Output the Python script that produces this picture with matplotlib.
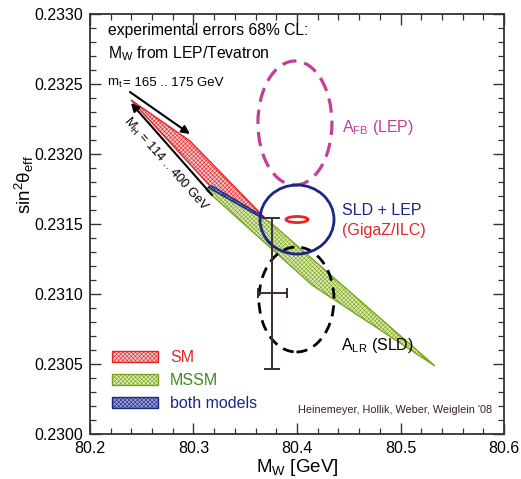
import matplotlib
matplotlib.use('Agg')
import matplotlib.pyplot as plt
from matplotlib.patches import Polygon, Ellipse, Patch
from matplotlib.ticker import MultipleLocator, FormatStrFormatter

plt.rcParams['font.family'] = ['Liberation Sans', 'DejaVu Sans']
plt.rcParams['mathtext.fontset'] = 'custom'
plt.rcParams['mathtext.rm'] = 'Liberation Sans'
plt.rcParams['mathtext.it'] = 'Liberation Sans'
plt.rcParams['mathtext.bf'] = 'Liberation Sans:bold'
plt.rcParams['hatch.linewidth'] = 0.4

# band outlines (MW, sin2theta)
sm_x = [80.2396, 80.2966, 80.3681, 80.3169]
sm_y = [0.232386, 0.232093, 0.231550, 0.231764]
mssm_x = [80.3140, 80.3739, 80.5333, 80.4145, 80.3121]
mssm_y = [0.231757, 0.231514, 0.230486, 0.231064, 0.231743]
both_x = [80.3140, 80.3179, 80.3681, 80.3670]
both_y = [0.231764, 0.231771, 0.231550, 0.231540]

# contours: centre x, centre y, full width, full height
afb = (80.398, 0.232221, 0.0715, 0.000886)
sld_lep = (80.400, 0.231532, 0.0715, 0.000493)
alr = (80.3995, 0.230961, 0.0725, 0.00075)
gigaz = (80.400, 0.231532, 0.0213, 0.000043)

# experimental point
mw_meas, mw_err = 80.3763, 0.0142
s2_meas, s2_err = 0.231005, 0.00054

red = '#e4252a'
green = '#7aa51c'
navy = '#1b2689'
magenta = '#c13f98'

fig = plt.figure(figsize=(5.21, 4.79), dpi=100)
ax = fig.add_axes([0.1727, 0.0939, 0.7947, 0.8769])

def band(xs, ys, col, light):
    pts = list(zip(xs, ys))
    ax.add_patch(Polygon(pts, closed=True, facecolor=light, edgecolor='none', zorder=2))
    ax.add_patch(Polygon(pts, closed=True, facecolor='none', edgecolor=col,
                         hatch='xxxxxxxx', linewidth=1.0, zorder=2))

band(sm_x, sm_y, red, '#f6c8c8')
band(mssm_x, mssm_y, green, '#dde9b8')
band(both_x, both_y, navy, '#9aa2d0')

ax.add_patch(Ellipse(afb[:2], afb[2], afb[3], fill=False, edgecolor=magenta,
                     linewidth=2.3, linestyle=(0, (4.5, 2.5)), zorder=3))
ax.add_patch(Ellipse(sld_lep[:2], sld_lep[2], sld_lep[3], fill=False, edgecolor=navy,
                     linewidth=2.0, zorder=4))
ax.add_patch(Ellipse(alr[:2], alr[2], alr[3], fill=False, edgecolor='black',
                     linewidth=2.0, linestyle=(0, (4, 2.5)), zorder=3))
ax.add_patch(Ellipse(gigaz[:2], gigaz[2], gigaz[3], fill=False, edgecolor=red,
                     linewidth=2.0, zorder=4))

ax.errorbar([mw_meas], [s2_meas], yerr=[s2_err], fmt='none', ecolor='#3a2f2f',
            elinewidth=1.4, capsize=5.5, capthick=1.4, zorder=5)
ax.errorbar([mw_meas], [s2_meas], xerr=[mw_err], fmt='none', ecolor='#3a2f2f',
            elinewidth=1.4, capsize=3.5, capthick=1.4, zorder=5)

# arrows
ax.annotate('', xy=(80.2966, 0.232143), xytext=(80.2386, 0.232443),
            arrowprops=dict(arrowstyle='-|>', color='black', lw=1.5,
                            mutation_scale=12, shrinkA=0, shrinkB=0))
ax.annotate('', xy=(80.2396, 0.232364), xytext=(80.3179, 0.231707),
            arrowprops=dict(arrowstyle='-|>', color='black', lw=1.5,
                            mutation_scale=12, shrinkA=0, shrinkB=0))
ax.text(80.2164, 0.232507, r'm$_\mathrm{t}$', fontsize=9.5, ha='left', va='center')
ax.text(80.2320, 0.232507, '= 165 .. 175 GeV', fontsize=9.5, ha='left', va='center')
ax.text(80.2734, 0.231925, r'M$_\mathrm{H}$ = 114 .. 400 GeV', fontsize=9.3,
        ha='center', va='center', rotation=-48.5, rotation_mode='anchor')

ax.text(80.2174, 0.232850, 'experimental errors 68% CL:', fontsize=11.3)
ax.text(80.2174, 0.232686, r'M$_\mathrm{W}$ from LEP/Tevatron', fontsize=11.3)

ax.text(80.4435, 0.232157, r'A$_\mathrm{FB}$ (LEP)', fontsize=11.5, color=magenta)
ax.text(80.4435, 0.231564, 'SLD + LEP', fontsize=11.5, color=navy)
ax.text(80.4435, 0.231421, '(GigaZ/ILC)', fontsize=11.5, color=red)
ax.text(80.4425, 0.230600, r'A$_\mathrm{LR}$ (SLD)', fontsize=11.5, color='black')
ax.text(80.4010, 0.230150, "Heinemeyer, Hollik, Weber, Weiglein '08", fontsize=7.8,
        color='#3a2020')

handles = [Patch(facecolor='#f6c8c8', edgecolor=red, hatch='xxxxxxxx'),
           Patch(facecolor='#dde9b8', edgecolor=green, hatch='xxxxxxxx'),
           Patch(facecolor='#9aa2d0', edgecolor=navy, hatch='xxxxxxxx')]
ax.legend(handles, ['SM', 'MSSM', 'both models'], loc='upper left',
          bbox_to_anchor=(0.053, 0.200), frameon=False, fontsize=11.5,
          handlelength=2.9, handleheight=0.75, labelspacing=0.5,
          handletextpad=0.75, borderpad=0, borderaxespad=0,
          labelcolor=[red, '#3e8a1e', navy])

ax.set_xlim(80.2, 80.6)
ax.set_ylim(0.2300, 0.2330)
ax.xaxis.set_major_locator(MultipleLocator(0.1))
ax.xaxis.set_minor_locator(MultipleLocator(0.02))
ax.yaxis.set_major_locator(MultipleLocator(0.0005))
ax.yaxis.set_minor_locator(MultipleLocator(0.0001))
ax.xaxis.set_major_formatter(FormatStrFormatter('%.1f'))
ax.yaxis.set_major_formatter(FormatStrFormatter('%.4f'))
ax.tick_params(which='both', direction='in', top=True, right=True, labelsize=11.5,
               color='#333333')
ax.tick_params(which='major', length=8, width=1.0, pad=5)
ax.tick_params(which='minor', length=4.5, width=0.9)
for s in ax.spines.values():
    s.set_linewidth(1.3)
    s.set_color('#333333')

ax.set_xlabel(r'M$_\mathrm{W}$ [GeV]', fontsize=13.5)
ax.xaxis.set_label_coords(0.5, -0.055)
ax.xaxis.label.set_va('top')
ax.set_ylabel(r'sin$^2\theta_\mathrm{eff}$', fontsize=13.5)
ax.yaxis.set_label_coords(-0.13, 0.593)

plt.savefig('out.png', dpi=100)
